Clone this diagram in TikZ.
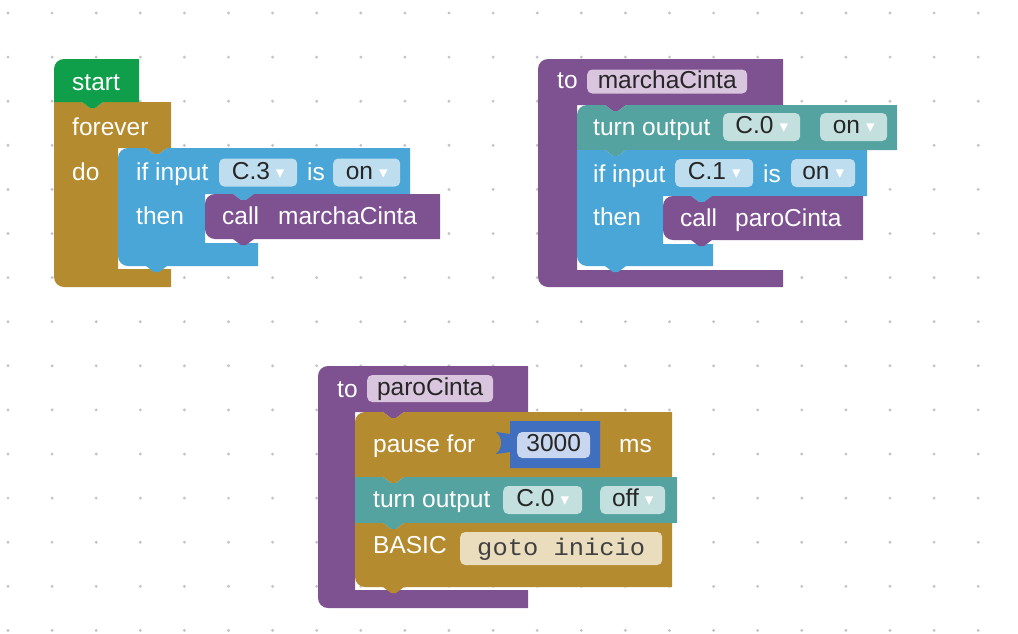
\documentclass[tikz,border=0pt]{standalone}
\usepackage{fontspec}
\setmainfont{Liberation Sans}
\newfontfamily\codefont{Liberation Mono}[FakeStretch=1.06]
\newfontfamily\arrowfont{DejaVu Sans}
\usepackage{xcolor}
\definecolor{startgreen}{HTML}{0F9F4B}
\definecolor{loopgold}{HTML}{B48B2F}
\definecolor{ifblue}{HTML}{4AA6D6}
\definecolor{procpurple}{HTML}{7E5191}
\definecolor{outteal}{HTML}{55A3A1}
\definecolor{numblue}{HTML}{3F6FBE}
\definecolor{fldblue}{HTML}{BEDDEF}
\definecolor{fldteal}{HTML}{C3E0DF}
\definecolor{fldpurple}{HTML}{D9C5DE}
\definecolor{fldgold}{HTML}{EADDBE}
\definecolor{fldnum}{HTML}{C9D6EF}
\definecolor{gridc}{HTML}{C4C4C4}

\newcommand{\blkfont}{\fontsize{24.5}{28}\selectfont}
\newcommand{\ddarrow}{\hspace{6pt}\raisebox{1pt}{\arrowfont\fontsize{17}{17}\selectfont\color{white}▾}}
% notch on a top edge (going right), tab under a bottom edge (going left)
\newcommand{\blknotch}{-- ++(8,6) -- ++(5,0) -- ++(8,-6)}
\newcommand{\blktab}{-- ++(-8,6) -- ++(-5,0) -- ++(-8,-6)}
\newcommand{\cornerTL}{arc[start angle=180, end angle=270, radius=10]}
\newcommand{\cornerBL}{arc[start angle=90, end angle=180, radius=10]}

\begin{document}
\begin{tikzpicture}[
    x=1pt, y=-1pt,
    lbl/.style={anchor=base west, inner sep=0, text=white, font=\blkfont},
    fld/.style={anchor=west, fill=#1, rounded corners=5, inner xsep=8, inner ysep=0,
        minimum height=28, text height=17, text depth=4, text=black!85, font=\blkfont}
]
\fill[white] (0,0) rectangle (1018,633);
\useasboundingbox (0,0) rectangle (1018,633);

% workspace grid
\foreach \i in {0,...,22}
    \foreach \j in {0,...,14}
        \fill[gridc] (8+44.1*\i, 13+44.1*\j) circle (1.6);

% start / forever / if input C.3
\fill[loopgold] (54,102) -- (82,102) \blknotch -- (171,102) -- (171,148) -- (167,148) \blktab
    -- (118,148) -- (118,269) -- (171,269) -- (171,287) -- (64,287) \cornerBL -- cycle;
\fill[startgreen] (54,69) \cornerTL -- (139,59) -- (139,102) -- (103,102) \blktab -- (54,102) -- cycle;
\fill[ifblue] (118,158) \cornerTL -- (146,148) \blknotch -- (410,148) -- (410,194) -- (254,194) \blktab
    -- (205,194) -- (205,243) -- (258,243) -- (258,266) -- (167,266) \blktab -- (128,266) \cornerBL -- cycle;
\fill[procpurple] (205,204) \cornerTL -- (233,194) \blknotch -- (440,194) -- (440,239) -- (254,239) \blktab
    -- (215,239) \cornerBL -- cycle;

\node[lbl] (start) at (72,90) {start};
\node[lbl] (forever) at (72,135) {forever};
\node[lbl] (do) at (72,180) {do};
\node[lbl] (ifA) at (136,180) {if input};
\node[fld=fldblue, minimum width=78] (pinA) at (219,172.5) {C.3\ddarrow};
\node[lbl] (isA) at (307,180) {is};
\node[fld=fldblue, minimum width=67] (stA) at (333,172.5) {on\ddarrow};
\node[lbl] (thenA) at (136,224) {then};
\node[lbl] (callA) at (222,224) {call};
\node[lbl] (nameA) at (278,224) {marchaCinta};

% to marchaCinta
\fill[procpurple] (538,69) \cornerTL -- (783,59) -- (783,105) -- (626,105) \blktab -- (577,105)
    -- (577,270) -- (783,270) -- (783,287) -- (548,287) \cornerBL -- cycle;
\fill[outteal] (577,115) \cornerTL -- (605,105) \blknotch -- (897,105) -- (897,150) -- (626,150) \blktab
    -- (577,150) -- cycle;
\fill[ifblue] (577,150) -- (605,150) \blknotch -- (867,150) -- (867,196) -- (712,196) \blktab
    -- (663,196) -- (663,244) -- (713,244) -- (713,266) -- (626,266) \blktab -- (587,266) \cornerBL -- cycle;
\fill[procpurple] (663,206) \cornerTL -- (691,196) \blknotch -- (863,196) -- (863,240) -- (712,240) \blktab
    -- (673,240) \cornerBL -- cycle;

\node[lbl] (toB) at (557,88) {to};
\node[fld=fldpurple, minimum height=24, minimum width=160] (procB) at (587,81.5) {marchaCinta};
\node[lbl] (turnB) at (593,135) {turn output};
\node[fld=fldteal, minimum width=77] (outB) at (723,127) {C.0\ddarrow};
\node[fld=fldteal, minimum width=67] (valB) at (820,127) {on\ddarrow};
\node[lbl] (ifB) at (593,182) {if input};
\node[fld=fldblue, minimum width=78] (pinB) at (675,173) {C.1\ddarrow};
\node[lbl] (isB) at (763,182) {is};
\node[fld=fldblue, minimum width=64] (stB) at (791,173) {on\ddarrow};
\node[lbl] (thenB) at (593,225) {then};
\node[lbl] (callB) at (680,226) {call};
\node[lbl] (nameB) at (735,226) {paroCinta};

% to paroCinta
\fill[procpurple] (318,376) \cornerTL -- (528,366) -- (528,412) -- (404,412) \blktab -- (355,412)
    -- (355,590) -- (528,590) -- (528,608) -- (328,608) \cornerBL -- cycle;
\fill[loopgold] (355,422) \cornerTL -- (383,412) \blknotch -- (672,412) -- (672,477) -- (404,477) \blktab
    -- (355,477) -- cycle;
\fill[numblue] (510,421) -- (600,421) -- (600,468) -- (510,468) -- (510,452) -- (496,454)
    .. controls (503,448) and (503,438) .. (496,432) -- (510,434) -- cycle;
\fill[outteal] (355,477) -- (383,477) \blknotch -- (677,477) -- (677,523) -- (404,523) \blktab
    -- (355,523) -- cycle;
\fill[loopgold] (355,523) -- (383,523) \blknotch -- (672,523) -- (672,587) -- (404,587) \blktab
    -- (365,587) \cornerBL -- cycle;

\node[lbl] (toC) at (337,397) {to};
\node[fld=fldpurple, minimum height=27, minimum width=126] (procC) at (367,388.5) {paroCinta};
\node[lbl] (pause) at (373,452) {pause for};
\node[fld=fldnum, minimum height=26, minimum width=73] (msval) at (517,445) {3000};
\node[lbl] (ms) at (619,452) {ms};
\node[lbl] (turnC) at (373,507) {turn output};
\node[fld=fldteal, minimum width=79] (outC) at (503,500) {C.0\ddarrow};
\node[fld=fldteal, minimum width=65] (valC) at (600,500) {off\ddarrow};
\node[lbl] (basic) at (373,553) {BASIC};
\node[fld=fldgold, minimum height=33, minimum width=202, font=\codefont\fontsize{24}{28}\selectfont,
    text=black!75] (code) at (460,548.5) {goto inicio};
\end{tikzpicture}
\end{document}
